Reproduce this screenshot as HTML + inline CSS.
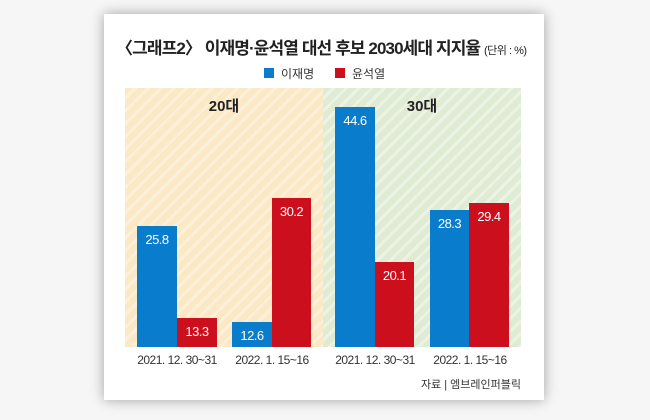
<!DOCTYPE html>
<html><head><meta charset="utf-8"><style>
body{margin:0;width:650px;height:420px;background:#f6f6f6;position:relative;overflow:hidden;font-family:"Liberation Sans","Noto Sans CJK KR",sans-serif}
.card{position:absolute;left:104px;top:14px;width:440px;height:386px;background:#fff;box-shadow:0 0 12px rgba(0,0,0,.35)}
.abs{position:absolute}
.bar{position:absolute;color:#fff;font-size:13px;text-align:center;padding-top:6px;box-sizing:border-box;letter-spacing:-0.5px}
.b{background:#0a7ccc}.r{background:#cc0f1c}
.xl{position:absolute;top:353px;font-size:12px;color:#333;text-align:center;width:110px;letter-spacing:-0.5px}
</style></head><body>
<div class="card"></div>
<div class="abs" style="left:116px;top:34px;font-size:17px;font-weight:bold;color:#222;letter-spacing:-0.9px;white-space:nowrap">〈그래프2〉 이재명·윤석열 대선 후보 2030세대 지지율 <span style="font-size:11px;font-weight:normal;letter-spacing:-0.5px">(단위 : %)</span></div>
<div class="abs" style="left:264px;top:68px;width:10px;height:10px;background:#0a7ccc"></div>
<div class="abs" style="left:281px;top:65px;font-size:12px;color:#333">이재명</div>
<div class="abs" style="left:335px;top:68px;width:10px;height:10px;background:#cc0f1c"></div>
<div class="abs" style="left:352px;top:65px;font-size:12px;color:#333">윤석열</div>
<div class="abs" style="left:125px;top:88px;width:198px;height:259px;background:repeating-linear-gradient(135deg,#fbe8c4 0 6px,#fdf0d8 6px 9px)"></div>
<div class="abs" style="left:323px;top:88px;width:198px;height:259px;background:repeating-linear-gradient(135deg,#e0ebd3 0 6px,#ecf3e4 6px 9px)"></div>
<div class="abs" style="left:125px;top:95px;width:198px;text-align:center;font-size:15px;font-weight:bold;color:#222">20대</div>
<div class="abs" style="left:323px;top:95px;width:198px;text-align:center;font-size:15px;font-weight:bold;color:#222">30대</div>
<div class="bar b" style="left:137px;top:226px;width:40px;height:121px">25.8</div>
<div class="bar r" style="left:177px;top:318px;width:40px;height:29px">13.3</div>
<div class="bar b" style="left:232px;top:322px;width:40px;height:25px">12.6</div>
<div class="bar r" style="left:272px;top:198px;width:39px;height:149px">30.2</div>
<div class="bar b" style="left:335px;top:107px;width:40px;height:240px">44.6</div>
<div class="bar r" style="left:375px;top:262px;width:39px;height:85px">20.1</div>
<div class="bar b" style="left:430px;top:210px;width:39px;height:137px">28.3</div>
<div class="bar r" style="left:469px;top:203px;width:40px;height:144px">29.4</div>
<div class="xl" style="left:122px">2021. 12. 30~31</div>
<div class="xl" style="left:217px">2022. 1. 15~16</div>
<div class="xl" style="left:320px">2021. 12. 30~31</div>
<div class="xl" style="left:415px">2022. 1. 15~16</div>
<div class="abs" style="left:420px;top:376px;width:101px;text-align:right;font-size:11px;color:#333;white-space:nowrap">자료 | 엠브레인퍼블릭</div>
</body></html>
